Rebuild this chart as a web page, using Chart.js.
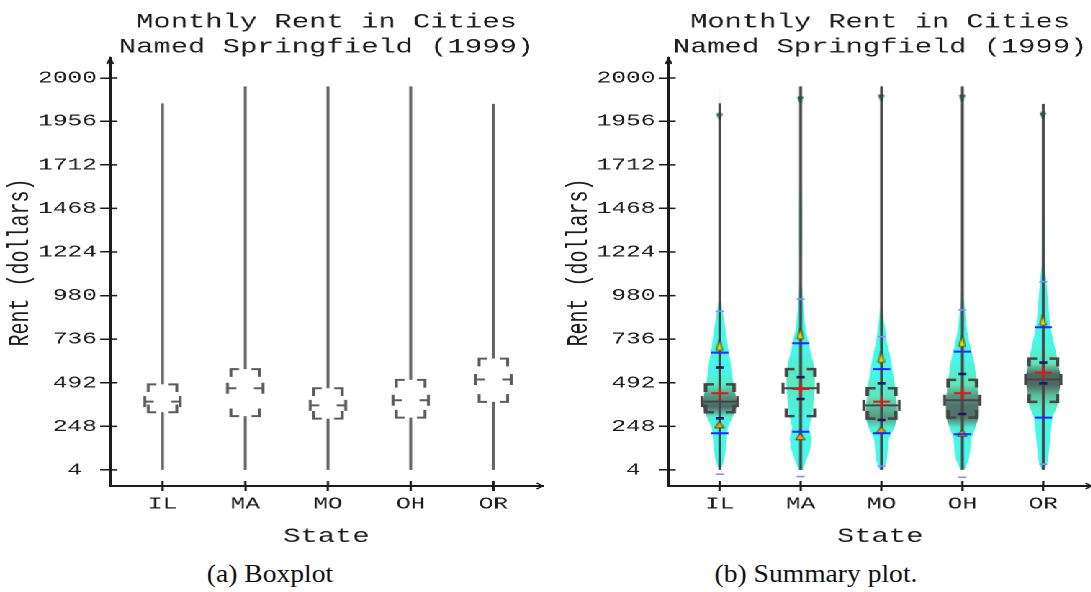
<!DOCTYPE html>
<html>
<head>
<meta charset="utf-8">
<title>Monthly Rent in Cities Named Springfield (1999)</title>
<script src="https://cdn.jsdelivr.net/npm/chart.js@4.4.1/dist/chart.umd.min.js"></script>
<style>
  html, body { margin: 0; padding: 0; background: #fff; width: 1091px; height: 592px; overflow: hidden; }
  /* the two panels are drawn narrow and widened, giving the broad typewriter look */
  #stretch { position: absolute; left: 0; top: 0; width: 770px; height: 556px; transform: scaleX(1.44); transform-origin: 0 0; }
  .panel { position: absolute; top: 0; width: 378.5px; height: 556px; }
  #panelA { left: 0; }
  #panelB { left: 387.7px; }
  .caption { position: absolute; top: 561px; width: 320px; height: 30px; line-height: 26px; text-align: center;
             font-family: "Liberation Serif", "DejaVu Serif", serif; font-size: 26px; color: #111;
             transform: scaleX(1.06); transform-origin: 50% 50%; white-space: nowrap; }
  #capA { left: 110px; }
  #capB { left: 656px; }
</style>
</head>
<body>
<div id="stretch">
  <div class="panel" id="panelA"><canvas id="boxChart"></canvas></div>
  <div class="panel" id="panelB"><canvas id="summaryChart"></canvas></div>
</div>
<div class="caption" id="capA">(a) Boxplot</div>
<div class="caption" id="capB">(b) Summary plot.</div>

<script>
// ---- data ----------------------------------------------------------------
const titleLines = ['Monthly Rent in Cities', 'Named Springfield (1999)'];
const states = ['IL', 'MA', 'MO', 'OH', 'OR'];

const rentTicks = [4, 248, 492, 736, 980, 1224, 1468, 1712, 1956, 2198];
const rentTickLabels = ['4 ', '248', '492', '736', '980', '1224', '1468', '1712', '1956', '2000'];

// five-number summaries
const rentMin = [4, 4, 4, 4, 4];
const rentQ1  = [327, 305, 291, 297, 385];
const rentMed = [386, 461, 365, 394, 510];
const rentQ3  = [483, 568, 461, 508, 627];
const rentMax = [2056, 2151, 2151, 2151, 2053];

// extra summary marks
const rentMean  = [433, 457, 386, 433, 549];
const outerHi   = [892, 960, 750, 900, 1058];
const outerLo   = [-20, -33, 26, -37, 36];
const midHi     = [661, 713, 568, 666, 803];
const midLo     = [209, 218, 209, 204, 297];
const innerHi   = [577, 523, 489, 541, 605];
const innerLo   = [293, 401, 284, 317, 489];
const upperMark = [704, 769, 637, 726, 844];
const lowerMark = [256, 190, 228, 209, null];
const topMark   = [1982, 2075, 2086, 2085, 1987];

// relative density of rents at each level
const densityLevels = [4, 60, 120, 180, 240, 300, 360, 420, 480, 540, 600, 660, 720, 780, 840, 900, 960, 1050, 1150, 1300, 1450, 1600, 1800, 2000, 2150];
const densityIL = [0.06, 0.26, 0.35, 0.41, 0.47, 0.76, 1.00, 0.94, 0.82, 0.71, 0.65, 0.53, 0.44, 0.35, 0.26, 0.15, 0.08, 0.06, 0.06, 0.08, 0.08, 0.04, 0.03, 0.02, 0];
const densityMA = [0.12, 0.35, 0.56, 0.65, 0.50, 0.65, 0.74, 0.80, 0.84, 0.84, 0.76, 0.59, 0.47, 0.32, 0.24, 0.18, 0.13, 0.07, 0.07, 0.09, 0.09, 0.07, 0.03, 0.02, 0];
const densityMO = [0.12, 0.32, 0.38, 0.44, 0.76, 0.94, 0.91, 0.85, 0.79, 0.68, 0.59, 0.47, 0.32, 0.24, 0.15, 0.09, 0.06, 0.05, 0.04, 0.05, 0.05, 0.03, 0.02, 0.01, 0];
const densityOH = [0.12, 0.38, 0.47, 0.53, 0.76, 0.97, 0.97, 0.94, 0.88, 0.79, 0.71, 0.56, 0.41, 0.29, 0.21, 0.15, 0.08, 0.05, 0.05, 0.06, 0.06, 0.04, 0.02, 0.01, 0];
const densityOR = [0.09, 0.29, 0.35, 0.41, 0.47, 0.56, 0.82, 0.91, 1.00, 1.00, 0.88, 0.76, 0.62, 0.47, 0.38, 0.32, 0.27, 0.2, 0.09, 0.08, 0.07, 0.03, 0.02, 0.01, 0];
const densities = [densityIL, densityMA, densityMO, densityOH, densityOR];

// ---- drawing helpers --------------------------------------------------------
const MONO = '"Liberation Mono", "DejaVu Sans Mono", monospace';
const INK = '#1c1c1c';

function mix(a, b, t) {
  return 'rgb(' + a.map((v, k) => Math.round(v + (b[k] - v) * t)).join(',') + ')';
}
const CYAN = [70, 248, 234], GREEN = [98, 228, 182], DARK = [78, 104, 98];
function shade(d) {
  if (d <= 0.68) return mix(CYAN, CYAN, 0);
  if (d <= 0.88) return mix(CYAN, GREEN, (d - 0.68) / 0.2);
  return mix(GREEN, DARK, Math.min(1, (d - 0.88) / 0.1));
}

function drawViolins(chart) {
  const { ctx } = chart;
  const xs = chart.scales.x, ys = chart.scales.y;
  const halfMax = 11.8;
  densities.forEach((dens, i) => {
    const cx = xs.getPixelForValue(i);
    const pts = densityLevels.map((v, k) => ({ y: ys.getPixelForValue(v), w: dens[k] * halfMax }));
    const yBot = pts[0].y, yTop = pts[pts.length - 1].y;
    const grad = ctx.createLinearGradient(0, yBot, 0, yTop);
    pts.forEach((p, k) => grad.addColorStop((yBot - p.y) / (yBot - yTop), shade(dens[k])));
    ctx.save();
    ctx.beginPath();
    pts.forEach((p, k) => k === 0 ? ctx.moveTo(cx + p.w, p.y) : ctx.lineTo(cx + p.w, p.y));
    for (let k = pts.length - 1; k >= 0; k--) ctx.lineTo(cx - pts[k].w, pts[k].y);
    ctx.closePath();
    ctx.fillStyle = grad;
    ctx.fill();
    ctx.restore();
  });
}

function drawBoxes(chart, summary) {
  const { ctx } = chart;
  const xs = chart.scales.x, ys = chart.scales.y;
  const bw = 9.9, armH = 5.6, armV = 7.7, mw = 12.3, ml = 6.2, mh = 5.5;
  states.forEach((s, i) => {
    const x = xs.getPixelForValue(i);
    const yLo = ys.getPixelForValue(rentMin[i]);
    const yQ1 = ys.getPixelForValue(rentQ1[i]);
    const yMd = ys.getPixelForValue(rentMed[i]);
    const yQ3 = ys.getPixelForValue(rentQ3[i]);
    const yHi = ys.getPixelForValue(rentMax[i]);
    ctx.save();
    ctx.lineCap = 'butt';
    // whiskers
    ctx.strokeStyle = summary ? '#474747' : '#646464';
    ctx.lineWidth = 2;
    ctx.beginPath();
    if (summary) {
      ctx.moveTo(x, yLo); ctx.lineTo(x, yHi);
    } else {
      ctx.moveTo(x, yLo); ctx.lineTo(x, yQ1);
      ctx.moveTo(x, yQ3); ctx.lineTo(x, yHi);
    }
    ctx.stroke();
    // broken box outline: only the corners are inked
    ctx.strokeStyle = summary ? '#464646' : '#5c5c5c';
    ctx.lineWidth = summary ? 2.5 : 2;
    ctx.beginPath();
    [-1, 1].forEach(sx => {
      ctx.moveTo(x + sx * bw, yQ3 + armV); ctx.lineTo(x + sx * bw, yQ3); ctx.lineTo(x + sx * (bw - armH), yQ3);
      ctx.moveTo(x + sx * bw, yQ1 - armV); ctx.lineTo(x + sx * bw, yQ1); ctx.lineTo(x + sx * (bw - armH), yQ1);
    });
    ctx.stroke();
    // median bar with end stops
    ctx.lineWidth = 2;
    ctx.beginPath();
    if (summary) {
      ctx.moveTo(x - mw, yMd); ctx.lineTo(x + mw, yMd);
    } else {
      ctx.moveTo(x - mw, yMd); ctx.lineTo(x - mw + ml, yMd);
      ctx.moveTo(x + mw, yMd); ctx.lineTo(x + mw - ml, yMd);
    }
    ctx.moveTo(x - mw, yMd - mh); ctx.lineTo(x - mw, yMd + mh);
    ctx.moveTo(x + mw, yMd - mh); ctx.lineTo(x + mw, yMd + mh);
    ctx.stroke();
    ctx.restore();
  });
}

const summaryLayers = {
  id: 'summaryLayers',
  beforeDatasetsDraw(chart, args, opts) {
    if (opts.violins) drawViolins(chart);
    drawBoxes(chart, !!opts.violins);
  }
};

// axis details: inner tick halves, arrow heads and the rotated y title
const axisExtras = {
  id: 'axisExtras',
  afterDraw(chart) {
    const { ctx, chartArea: a } = chart;
    const xs = chart.scales.x, ys = chart.scales.y;
    ctx.save();
    ctx.strokeStyle = INK;
    ctx.lineWidth = 1.5;
    ctx.beginPath();
    rentTicks.forEach(v => { const p = ys.getPixelForValue(v); ctx.moveTo(a.left, p); ctx.lineTo(a.left + 4.9, p); });
    ctx.stroke();
    ctx.lineWidth = 1.6;
    ctx.beginPath();
    states.forEach((s, i) => { const p = xs.getPixelForValue(i); ctx.moveTo(p, a.bottom); ctx.lineTo(p, a.bottom - 5); });
    ctx.stroke();
    ctx.lineWidth = 1.3;
    ctx.beginPath();
    ctx.moveTo(a.left - 2.1, a.top + 6); ctx.lineTo(a.left, a.top); ctx.lineTo(a.left + 2.1, a.top + 6);
    ctx.moveTo(a.right - 4.2, a.bottom - 3); ctx.lineTo(a.right, a.bottom); ctx.lineTo(a.right - 4.2, a.bottom + 3);
    ctx.stroke();
    ctx.fillStyle = INK;
    ctx.font = '20px ' + MONO;
    ctx.textAlign = 'center';
    ctx.textBaseline = 'middle';
    ctx.translate(14.3, (a.top + a.bottom) / 2 - 9.5);
    ctx.rotate(-Math.PI / 2);
    ctx.fillText('Rent (dollars)', 0, 0);
    ctx.restore();
  }
};

function markerImage(w, h, fill, stroke, down) {
  const c = document.createElement('canvas');
  c.width = Math.ceil(w + 2); c.height = Math.ceil(h + 2);
  const g = c.getContext('2d');
  const x0 = 1, y0 = 1;
  g.beginPath();
  if (down) { g.moveTo(x0, y0); g.lineTo(x0 + w, y0); g.lineTo(x0 + w / 2, y0 + h); }
  else { g.moveTo(x0 + w / 2, y0); g.lineTo(x0 + w, y0 + h); g.lineTo(x0, y0 + h); }
  g.closePath();
  g.fillStyle = fill; g.fill();
  g.lineWidth = 0.8; g.strokeStyle = stroke; g.stroke();
  return c;
}
const upperIcon = markerImage(4.5, 11, '#f4e000', '#3c3a00', false);
const lowerIcon = markerImage(6.5, 6.5, '#f0a21c', '#4a3000', false);
const topIcon = markerImage(3.5, 6, '#2e5e5c', '#1e3a3a', true);

function points(values) {
  return values.map((v, i) => (v == null ? null : { x: i, y: v })).filter(Boolean);
}

function baseOptions(violins) {
  return {
    responsive: true,
    maintainAspectRatio: false,
    animation: false,
    devicePixelRatio: 2,
    events: [],
    layout: { padding: { top: 0, right: 2.1, bottom: 0, left: 0 } },
    plugins: {
      legend: { display: false },
      tooltip: { enabled: false },
      title: {
        display: true, text: titleLines, fullSize: false, color: INK,
        font: { family: MONO, size: 20, weight: 'normal', lineHeight: 1.25 },
        padding: { top: 9.5, bottom: -1.5 }
      },
      summaryLayers: { violins: violins }
    },
    scales: {
      x: {
        type: 'linear', min: -0.633, max: 4.597,
        afterBuildTicks: s => { s.ticks = states.map((n, i) => ({ value: i })); },
        afterFit: s => { s.height = 70; },
        ticks: { callback: v => states[Math.round(v)], color: INK, font: { family: MONO, size: 17 }, padding: 3, maxRotation: 0, autoSkip: false },
        grid: { drawOnChartArea: false, drawTicks: true, tickLength: 5, color: INK, lineWidth: 1.6 },
        border: { display: true, color: INK, width: 2 },
        title: { display: true, text: 'State', color: INK, font: { family: MONO, size: 20, lineHeight: 1.25 }, padding: { top: 0, bottom: 7 } }
      },
      y: {
        type: 'linear', min: -86, max: 2310,
        afterBuildTicks: s => { s.ticks = rentTicks.map(v => ({ value: v })); },
        afterFit: s => { s.width = 76.4; },
        ticks: { callback: (v, i) => rentTickLabels[i], color: INK, font: { family: MONO, size: 17 }, padding: 2.3, autoSkip: false },
        grid: { drawOnChartArea: false, drawTicks: true, tickLength: 6.9, color: INK, lineWidth: 1.5 },
        border: { display: true, color: INK, width: 2 }
      }
    }
  };
}

new Chart(document.getElementById('boxChart'), {
  type: 'scatter',
  data: { datasets: [] },
  options: baseOptions(false),
  plugins: [summaryLayers, axisExtras]
});

new Chart(document.getElementById('summaryChart'), {
  type: 'scatter',
  data: {
    datasets: [
      { label: 'outer', data: points(outerHi).concat(points(outerLo)), pointStyle: 'line', pointRadius: 2.8, borderColor: '#8a8aff', pointBorderWidth: 1.6 },
      { label: 'mid', data: points(midHi).concat(points(midLo)), pointStyle: 'line', pointRadius: 6, borderColor: '#2626ff', pointBorderWidth: 2 },
      { label: 'inner', data: points(innerHi).concat(points(innerLo)), pointStyle: 'line', pointRadius: 2.8, borderColor: '#1c1c66', pointBorderWidth: 2.6 },
      { label: 'upper', data: points(upperMark), pointStyle: upperIcon },
      { label: 'lower', data: points(lowerMark), pointStyle: lowerIcon },
      { label: 'top', data: points(topMark), pointStyle: topIcon },
      { label: 'mean', data: points(rentMean), pointStyle: 'cross', pointRadius: 5.8, borderColor: '#cc1f1f', pointBorderWidth: 2 }
    ]
  },
  options: baseOptions(true),
  plugins: [summaryLayers, axisExtras]
});
</script>
</body>
</html>
